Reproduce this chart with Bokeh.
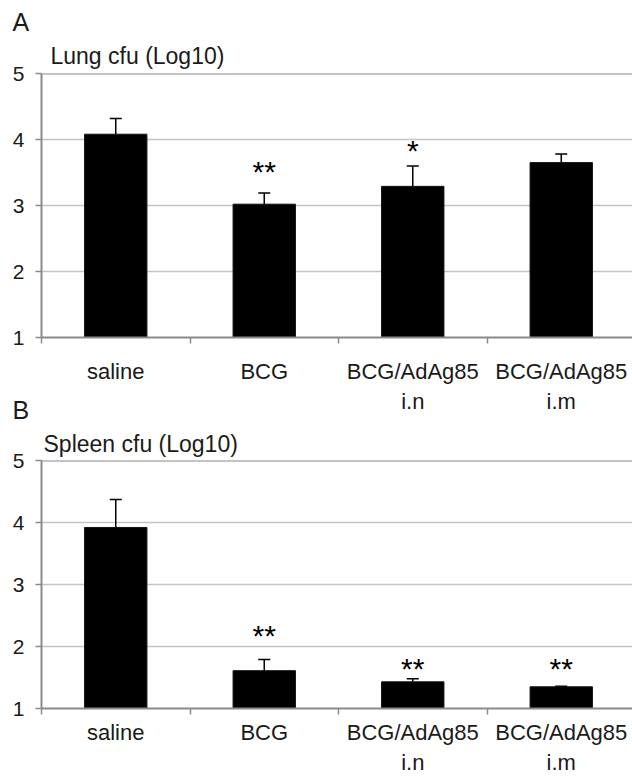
from bokeh.plotting import figure
from bokeh.models import Range1d, FixedTicker, Whisker, TeeHead, ColumnDataSource, Span, Title
from bokeh.layouts import column
from bokeh.embed import file_html
from bokeh.resources import INLINE
from bokeh.core.properties import value

# ---------------- data ----------------
categories = ["saline", "BCG", "BCG/AdAg85\ni.n", "BCG/AdAg85\ni.m"]
y_ticks = [1, 2, 3, 4, 5]

lung_mean = [4.08, 3.02, 3.29, 3.65]
lung_upper = [4.32, 3.19, 3.60, 3.78]
lung_sig = ["", "**", "*", ""]
lung_sig_y = [4.5, 3.52, 3.83, 4.0]

spleen_mean = [3.92, 1.61, 1.43, 1.35]
spleen_upper = [4.37, 1.79, 1.48, 1.36]
spleen_sig = ["", "**", "**", "**"]
spleen_sig_y = [4.5, 2.17, 1.64, 1.64]

FONT = "Liberation Sans"
W = 632
LEFT = 41
CAT_PX = 148.5
AXIS_GRAY = "#8a8a8a"
TEXT = "#1a1a1a"


def txt_title(text, size, offset, standoff, valign="bottom"):
    return Title(text=text, align="left", offset=offset, standoff=standoff,
                 vertical_align=valign, text_font=FONT, text_font_size=size,
                 text_font_style="normal", text_color=TEXT)


def make_panel(title, means, upper, sig, sig_y, height, top, bottom,
               title_dx, title_standoff, label_standoff):
    x_end = (W - LEFT) / CAT_PX
    p = figure(width=W, height=height, output_backend="svg", toolbar_location=None,
               x_range=Range1d(0, x_end), y_range=Range1d(y_ticks[0], y_ticks[-1]),
               min_border_left=LEFT, min_border_right=0, min_border_top=top,
               min_border_bottom=bottom)
    p.outline_line_color = None
    p.background_fill_color = "white"
    p.border_fill_color = "white"

    xs = [i + 0.5 for i in range(len(categories))]

    # panel title just above the frame
    p.add_layout(txt_title(title, "23px", title_dx, title_standoff), "above")

    # grid
    p.xgrid.visible = False
    p.ygrid.ticker = FixedTicker(ticks=y_ticks[1:-1])
    p.ygrid.grid_line_color = "#c4c4c4"
    p.ygrid.grid_line_width = 1.5
    p.add_layout(Span(location=y_ticks[-1], dimension="width", line_color=AXIS_GRAY, line_width=2))

    # y axis
    ax = p.yaxis[0]
    ax.ticker = FixedTicker(ticks=y_ticks)
    ax.axis_line_color = AXIS_GRAY
    ax.axis_line_width = 2
    ax.major_tick_line_color = AXIS_GRAY
    ax.major_tick_line_width = 1.5
    ax.major_tick_out = 6
    ax.major_tick_in = 0
    ax.minor_tick_line_color = None
    ax.major_label_standoff = 11
    ax.major_label_text_font = FONT
    ax.major_label_text_font_size = "21px"
    ax.major_label_text_color = TEXT

    # x axis: labels at category centres, small ticks at category boundaries
    bx = p.xaxis[0]
    bx.ticker = FixedTicker(ticks=xs, minor_ticks=list(range(len(categories))))
    bx.major_label_overrides = {x: c for x, c in zip(xs, categories)}
    bx.axis_line_color = AXIS_GRAY
    bx.axis_line_width = 2
    bx.major_tick_line_color = None
    bx.major_tick_out = 0
    bx.major_tick_in = 0
    bx.minor_tick_line_color = AXIS_GRAY
    bx.minor_tick_line_width = 1.5
    bx.minor_tick_out = 6
    bx.minor_tick_in = 0
    bx.major_label_standoff = label_standoff
    bx.major_label_text_font = FONT
    bx.major_label_text_font_size = "22px"
    bx.major_label_text_color = TEXT

    # bars and error bars
    src = ColumnDataSource(dict(x=xs, mean=means, upper=upper))
    p.vbar(x="x", top="mean", bottom=y_ticks[0], width=0.42, source=src,
           fill_color="black", line_color="#111111", line_width=1)
    p.add_layout(Whisker(base="x", lower="mean", upper="upper", source=src,
                         line_color="black", line_width=1.5,
                         upper_head=TeeHead(size=12, line_color="black", line_width=1.5),
                         lower_head=None))

    # significance marks
    ssrc = ColumnDataSource(dict(x=xs, y=sig_y, t=sig))
    p.text(x="x", y="y", text="t", source=ssrc, text_font=value(FONT),
           text_font_size="30px", text_align="center", text_baseline="middle",
           text_color="black")
    return p


# Panel A: frame 73..337 ; figure 0..423
pa = make_panel("Lung cfu (Log10)", lung_mean, lung_upper, lung_sig, lung_sig_y,
                height=423, top=73, bottom=86,
                title_dx=9, title_standoff=10, label_standoff=15)
pa.title = txt_title("A", "25px", -29, 0)
# letter of panel B sits in the lower margin of figure A, beside the axis labels
pa.add_layout(txt_title("B", "25px", -29, -41, valign="top"), "below")

# Panel B: frame 460..710 ; figure 423..777
pb = make_panel("Spleen cfu (Log10)", spleen_mean, spleen_upper, spleen_sig, spleen_sig_y,
                height=354, top=37, bottom=67,
                title_dx=2, title_standoff=8, label_standoff=5)
pb.title = None

layout = column(pa, pb, spacing=0)
open("out.html", "w").write(file_html(layout, INLINE))
